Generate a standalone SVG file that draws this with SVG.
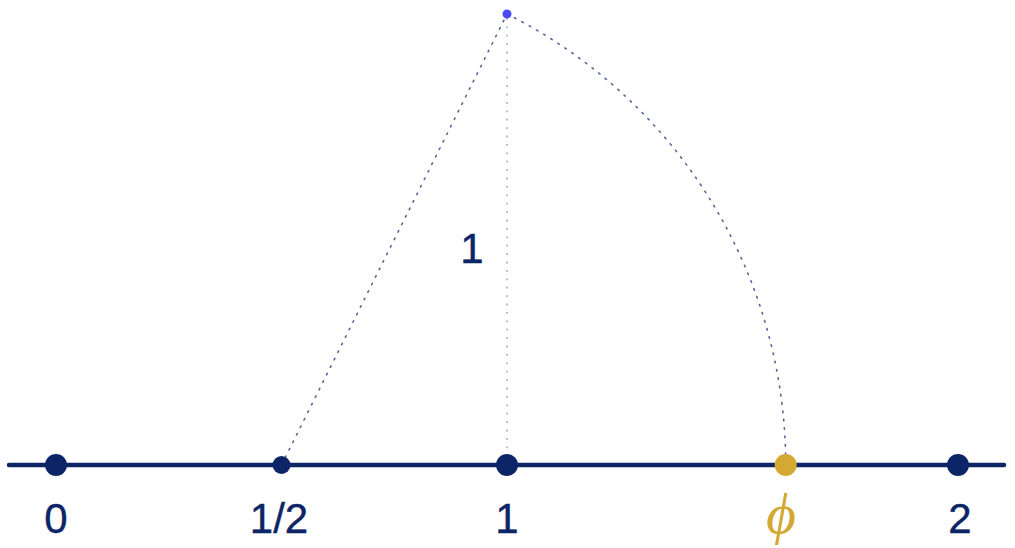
<svg xmlns="http://www.w3.org/2000/svg" width="1015" height="548" viewBox="0 0 1015 548">
<style>
.lbl{font-family:"Liberation Sans",Arial,sans-serif;font-size:42px;fill:#0c2566;stroke:#0c2566;stroke-width:0.4;text-anchor:middle}
.dot{fill:#0c2566}
.guide{fill:none;stroke:#3a4a88;stroke-width:1.6;stroke-dasharray:1.6 6.8;stroke-linecap:round;opacity:0.85}
.vguide{fill:none;stroke:#aab4d0;stroke-width:1.8;stroke-dasharray:1.8 6.6}
</style>
<rect width="1015" height="548" fill="#ffffff"/>
<g id="connectors">
<line class="guide" x1="281.5" y1="465" x2="507" y2="14"/>
<line class="vguide" x1="507" y1="465" x2="507" y2="14"/>
<path class="guide" d="M507 14 A504.2 504.2 0 0 1 785.7 465"/>
<line x1="9" y1="465" x2="1004" y2="465" stroke="#0c2566" stroke-width="4.5" stroke-linecap="round"/>
</g>
<g id="n-top"><circle cx="507" cy="14" r="4.5" fill="#4a4af5"/></g>
<g id="n-unit-label"><text class="lbl" x="472" y="263">1</text></g>
<g id="n0"><circle class="dot" cx="56" cy="465" r="11"/><text class="lbl" x="56" y="533">0</text></g>
<g id="n-half"><circle class="dot" cx="281.5" cy="465" r="9"/><text class="lbl" x="279" y="533">1/2</text></g>
<g id="n1"><circle class="dot" cx="507" cy="465" r="11"/><text class="lbl" x="507" y="533">1</text></g>
<g id="n-phi"><circle cx="785.7" cy="465" r="11" fill="#d4a933"/><text x="781" y="533" font-family="'Liberation Serif','Times New Roman',serif" font-style="italic" font-size="58" fill="#d4a933" text-anchor="middle">ϕ</text></g>
<g id="n2"><circle class="dot" cx="958" cy="465" r="11"/><text class="lbl" x="960" y="533">2</text></g>
</svg>
